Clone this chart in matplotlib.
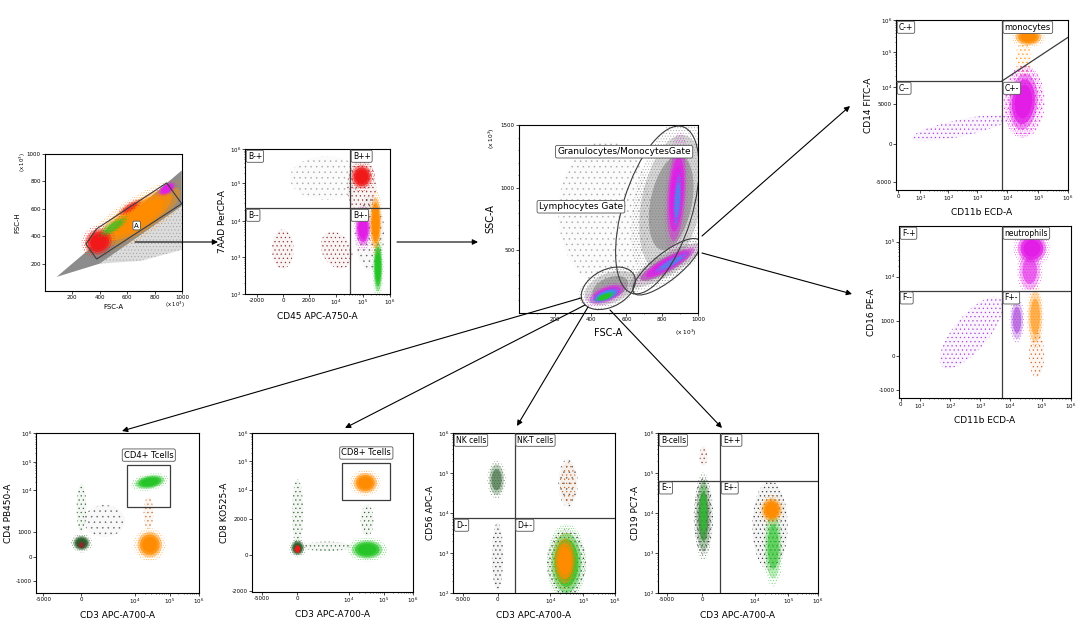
import matplotlib
matplotlib.use('Agg')
import matplotlib.pyplot as plt
import numpy as np
from matplotlib.patches import Ellipse, Polygon, Rectangle, FancyArrowPatch

plt.rcParams['font.family'] = ['DejaVu Sans']
plt.rcParams['hatch.linewidth'] = 0.4

W, H = 1080, 622

COLORS = {
    'orange': '#ff8c00', 'magenta': '#e21ee6', 'purple': '#a43ad8',
    'green': '#26c426', 'dkgreen': '#2b5f2b', 'red': '#f01818',
    'dkred': '#8a2a2a', 'blue': '#2d9cf0', 'gray': '#7a7a7a',
    'ltgray': '#8a8a8a', 'black': '#303030', 'orred': '#c8601a',
}
GATE = '#3c3c3c'

# population clouds: (colour, x, y, spread x, spread y, tilt deg, density)
# panel 1: FSC-H vs FSC-A (x10^3)
P1_BAND = [(85, 103), (998, 880), (998, 620), (400, 200)]
P1_TAIL = [(400, 200), (998, 620), (998, 300), (700, 220)]
P1_GATE = [(299, 343), (377, 454), (888, 789), (998, 637), (377, 233)]
P1_POP = [
    ('orange', 680, 540, 720, 220, 33, 'dense'),
    ('red', 390, 360, 200, 180, 33, 'dense'),
    ('red', 620, 610, 180, 60, 33, 'medium'),
    ('green', 500, 470, 220, 70, 33, 'medium'),
    ('magenta', 890, 745, 130, 70, 33, 'dense'),
]

# panel 2: 7AAD PerCP-A vs CD45 APC-A750-A (display channels)
P2_POP = [
    ('ltgray', 560, 800, 500, 300, 0, 'faint'),
    ('dkred', 260, 310, 150, 270, 0, 'sparse'),
    ('dkred', 632, 303, 200, 270, 30, 'sparse'),
    ('dkred', 805, 740, 200, 380, 0, 'sparse'),
    ('red', 805, 809, 140, 160, 0, 'dense'),
    ('black', 860, 420, 200, 520, 0, 'faint'),
    ('magenta', 814, 455, 100, 240, 0, 'dense'),
    ('green', 917, 188, 60, 340, 0, 'dense'),
    ('orange', 901, 490, 75, 350, 0, 'dense'),
]
P2_XT = [83, 262, 441, 628, 814, 1000]
P2_XL = ['-2000', '0', '2000', '$10^4$', '$10^5$', '$10^6$']
P2_YT = [0, 255, 503, 766, 1000]
P2_YL = ['$10^2$', '$10^3$', '$10^4$', '$10^5$', '$10^6$']
P2_QUAD = (724, 593)

# panel 3: SSC-A vs FSC-A (x10^3)
P3_POP = [
    ('ltgray', 480, 800, 520, 1150, 0, 'faint'),
    ('gray', 850, 880, 330, 1100, -12, 'medium'),
    ('magenta', 880, 950, 100, 750, -4, 'dense'),
    ('blue', 885, 900, 40, 400, -4, 'medium'),
    ('gray', 820, 380, 460, 170, 28, 'medium'),
    ('magenta', 830, 390, 340, 110, 28, 'dense'),
    ('blue', 850, 400, 200, 60, 28, 'medium'),
    ('gray', 510, 200, 300, 240, 20, 'medium'),
    ('magenta', 490, 150, 200, 120, 20, 'dense'),
    ('blue', 485, 140, 150, 80, 20, 'dense'),
    ('green', 480, 130, 100, 50, 20, 'dense'),
]
P3_GATES = [(773, 822, 930, 580, 72), (825, 369, 460, 220, 37),
            (499, 197, 320, 300, 25)]

# panel 4: CD14 FITC-A vs CD11b ECD-A
P4_POP = [
    ('purple', 376, 365, 580, 100, 12, 'sparse'),
    ('orange', 740, 770, 90, 200, 0, 'sparse'),
    ('magenta', 745, 520, 240, 420, 0, 'sparse'),
    ('magenta', 741, 519, 165, 330, -5, 'dense'),
    ('orange', 770, 900, 150, 95, 0, 'dense'),
]
P4_XT = [13, 142, 304, 473, 647, 828, 1000]
P4_XL = ['0', '$10^1$', '$10^2$', '$10^3$', '$10^4$', '$10^5$', '$10^6$']
P4_YT = [47, 271, 506, 606, 812, 1000]
P4_YL = ['-5000', '0', '5000', '$10^4$', '$10^5$', '$10^6$']
P4_QUAD = (616, 641)
P4_DIAG = (1000, 898)

# panel 5: CD16 PE-A vs CD11b ECD-A
P5_POP = [
    ('purple', 420, 380, 520, 200, 50, 'sparse'),
    ('orred', 800, 250, 90, 260, 0, 'sparse'),
    ('purple', 686, 453, 70, 220, 0, 'medium'),
    ('orange', 792, 473, 80, 300, 0, 'medium'),
    ('magenta', 760, 740, 120, 220, 0, 'medium'),
    ('magenta', 773, 870, 165, 165, 0, 'dense'),
]
P5_XT = [10, 122, 297, 472, 646, 831, 1000]
P5_XL = P4_XL
P5_YT = [47, 244, 448, 705, 909]
P5_YL = ['-1000', '0', '1000', '$10^4$', '$10^5$']
P5_QUAD = (598, 624)

# bottom row: CD3 APC-A700-A on x
P6_POP = [
    ('black', 420, 450, 250, 200, 0, 'faint'),
    ('dkgreen', 279, 530, 60, 310, 0, 'sparse'),
    ('orred', 690, 500, 60, 200, 0, 'sparse'),
    ('dkgreen', 279, 312, 100, 90, 0, 'dense'),
    ('dkred', 279, 300, 40, 40, 0, 'dense'),
    ('orange', 698, 302, 150, 160, 0, 'dense'),
    ('green', 698, 694, 180, 80, 10, 'dense'),
]
P6_XT = [45, 276, 606, 820, 1000]
P6_XL = ['-5000', '0', '$10^4$', '$10^5$', '$10^6$']
P6_YT = [77, 228, 383, 643, 820, 1000]
P6_YL = ['-1000', '0', '1000', '$10^4$', '$10^5$', '$10^6$']
P6_RECT = (559, 536, 825, 799)

P7_POP = [
    ('dkgreen', 464, 287, 300, 60, 0, 'sparse'),
    ('dkgreen', 283, 497, 70, 420, 0, 'sparse'),
    ('dkgreen', 715, 450, 80, 200, 0, 'sparse'),
    ('dkgreen', 283, 277, 80, 90, 0, 'dense'),
    ('red', 283, 270, 40, 50, 0, 'dense'),
    ('green', 715, 267, 190, 115, 0, 'dense'),
    ('orange', 704, 686, 145, 125, 0, 'dense'),
]
P7_XT = [62, 280, 600, 818, 1000]
P7_XL = P6_XL
P7_YT = [4, 235, 459, 644, 822, 1000]
P7_YL = ['-2000', '0', '2000', '$10^4$', '$10^5$', '$10^6$']
P7_RECT = (562, 580, 858, 811)

P8_POP = [
    ('black', 275, 229, 70, 420, 0, 'sparse'),
    ('black', 710, 688, 120, 300, 0, 'faint'),
    ('orred', 710, 688, 100, 260, 0, 'sparse'),
    ('dkgreen', 269, 708, 90, 190, 0, 'medium'),
    ('black', 700, 188, 240, 420, 0, 'sparse'),
    ('green', 700, 188, 185, 375, 0, 'dense'),
    ('orange', 690, 200, 130, 280, 0, 'dense'),
]
P8_XT = [62, 275, 600, 805, 1000]
P8_YT = [0, 250, 500, 750, 1000]
P8_YL = P2_YL
P8_QUAD = (380, 469)

P9_POP = [
    ('black', 700, 420, 220, 560, 0, 'sparse'),
    ('dkred', 284, 855, 50, 120, 0, 'sparse'),
    ('black', 284, 479, 120, 480, 0, 'sparse'),
    ('dkgreen', 284, 479, 90, 440, 0, 'medium'),
    ('green', 284, 500, 50, 350, 0, 'medium'),
    ('green', 720, 291, 100, 400, 0, 'medium'),
    ('orange', 710, 520, 125, 145, 0, 'dense'),
]
P9_XT = [56, 278, 606, 813, 1000]
P9_YT = P8_YT
P9_YL = P2_YL
P9_QUAD = (388, 702)

# (scale, fill alpha, hatch, hatch alpha)
KINDS = {
    'faint': [(1.0, 0.03, '...', 0.6)],
    'sparse': [(1.0, 0.05, '....', 0.9)],
    'medium': [(1.25, 0.0, '......', 0.6), (1.0, 0.3, None, 1), (0.7, 0.55, None, 1)],
    'dense': [(1.3, 0.0, '.......', 0.6), (1.0, 0.45, None, 1),
              (0.8, 0.75, None, 1), (0.6, 1.0, None, 1)],
}


def panel(fig, l, t, r, b):
    ax = fig.add_axes([l / W, 1 - b / H, (r - l) / W, (b - t) / H])
    ax.tick_params(labelsize=4, length=2, width=0.5, pad=1)
    ax.tick_params(which='minor', length=1, width=0.4)
    for s in ax.spines.values():
        s.set_linewidth(0.8)
    return ax


def ticks(ax, axis, pos, labels):
    getattr(ax, 'set_%sticks' % axis)(pos, labels)
    minor = []
    for i in range(len(pos) - 1):
        if labels[i].startswith('$10') and labels[i + 1].startswith('$10'):
            a, b = pos[i], pos[i + 1]
            minor += [a + (b - a) * np.log10(m) for m in range(2, 10)]
    getattr(ax, 'set_%sticks' % axis)(minor, minor=True)


def blob(ax, pop):
    key, x, y, sx, sy, tilt, kind = pop
    color = COLORS[key]
    (x0, x1), (y0, y1) = ax.get_xlim(), ax.get_ylim()
    cx, cy = (x - x0) / (x1 - x0), (y - y0) / (y1 - y0)
    fw, fh = sx / (x1 - x0), sy / (y1 - y0)
    for s, fa, hatch, ha in KINDS[kind]:
        if fa > 0:
            ax.add_patch(Ellipse((cx, cy), fw * s, fh * s, angle=tilt, transform=ax.transAxes,
                                 facecolor=color, edgecolor='none', lw=0, alpha=fa))
        if hatch:
            ax.add_patch(Ellipse((cx, cy), fw * s, fh * s, angle=tilt, transform=ax.transAxes,
                                 facecolor='none', edgecolor=color, hatch=hatch, lw=0,
                                 alpha=ha))


def tag(ax, x, y, s, size=5.5, ha='left', va='top', off=(2, -2)):
    ax.annotate(s, (x, y), xytext=off, textcoords='offset points', ha=ha, va=va,
                fontsize=size, zorder=5,
                bbox=dict(boxstyle='round,pad=0.2', fc='white', ec='#555555', lw=0.6))


def quad(ax, qx, qy, names, full=True):
    ax.axvline(qx, color=GATE, lw=0.9, zorder=4)
    if full:
        ax.axhline(qy, color=GATE, lw=0.9, zorder=4)
    tag(ax, 0, 1000, names[0])
    tag(ax, qx, 1000, names[1])
    tag(ax, 0, qy, names[2])
    tag(ax, qx, qy, names[3])


def channel_axes(ax, xt, xl, yt, yl, xlabel, ylabel):
    ax.set_xlim(0, 1000)
    ax.set_ylim(0, 1000)
    ticks(ax, 'x', xt, xl)
    ticks(ax, 'y', yt, yl)
    ax.set_xlabel(xlabel, fontsize=6.5, labelpad=3)
    ax.set_ylabel(ylabel, fontsize=6.5, labelpad=2)


fig = plt.figure(figsize=(W / 100, H / 100), dpi=100)

# --- panel 1
ax1 = panel(fig, 45, 154, 182, 291)
ax1.set_xlim(0, 1000)
ax1.set_ylim(0, 1000)
ax1.set_xticks([200, 400, 600, 800, 1000])
ax1.set_yticks([200, 400, 600, 800, 1000])
ax1.add_patch(Polygon(P1_TAIL, closed=True, facecolor='#bbbbbb', edgecolor=COLORS['gray'],
                      hatch='.....', lw=0, alpha=0.5))
ax1.add_patch(Polygon(P1_BAND, closed=True, facecolor='#8c8c8c', edgecolor='none'))
for p in P1_POP:
    blob(ax1, p)
ax1.add_patch(Polygon(P1_GATE, closed=True, facecolor='none', edgecolor=GATE, lw=0.8, zorder=4))
tag(ax1, 669, 478, 'A', size=5, ha='center', va='center', off=(0, 0))
ax1.set_xlabel('FSC-A', fontsize=5, labelpad=3)
ax1.set_ylabel('FSC-H', fontsize=5, labelpad=5)
ax1.text(-0.16, 0.94, '(x 10$^3$)', transform=ax1.transAxes, rotation=90,
         fontsize=3.8, ha='center', va='center')
ax1.text(0.95, -0.1, '(x 10$^3$)', transform=ax1.transAxes, fontsize=3.8,
         ha='center', va='center')

# --- panel 2
ax2 = panel(fig, 245, 149, 390, 294)
channel_axes(ax2, P2_XT, P2_XL, P2_YT, P2_YL, 'CD45 APC-A750-A', '7AAD PerCP-A')
for p in P2_POP:
    blob(ax2, p)
quad(ax2, *P2_QUAD, ['B-+', 'B++', 'B--', 'B+-'])

# --- panel 3
ax3 = panel(fig, 519, 125, 698, 313)
ax3.set_xlim(0, 1000)
ax3.set_ylim(0, 1500)
ax3.set_xticks([200, 400, 600, 800, 1000])
ax3.set_yticks([500, 1000, 1500])
ax3.set_xticks(np.arange(100, 1000, 100), minor=True)
ax3.set_yticks(np.arange(100, 1500, 100), minor=True)
for p in P3_POP:
    blob(ax3, p)
for gx, gy, gw, gh, ga in P3_GATES:
    ax3.add_patch(Ellipse((gx / 1000, gy / 1500), gw / 1000, gh / 1500, angle=ga,
                          transform=ax3.transAxes, facecolor='none', edgecolor=GATE,
                          lw=0.8, zorder=4))
tag(ax3, 587, 1287, 'Granulocytes/MonocytesGate', size=6.5, ha='center', va='center', off=(0, 0))
tag(ax3, 346, 848, 'Lymphocytes Gate', size=6.5, ha='center', va='center', off=(0, 0))
ax3.set_xlabel('FSC-A', fontsize=7, labelpad=4)
ax3.set_ylabel('SSC-A', fontsize=7, labelpad=4)
ax3.text(-0.153, 0.93, '(x 10$^3$)', transform=ax3.transAxes, rotation=90,
         fontsize=4.2, ha='center', va='center')
ax3.text(0.93, -0.106, '(x 10$^3$)', transform=ax3.transAxes, fontsize=4.2,
         ha='center', va='center')

# --- panel 4
ax4 = panel(fig, 896, 20, 1068, 190)
channel_axes(ax4, P4_XT, P4_XL, P4_YT, P4_YL, 'CD11b ECD-A', 'CD14 FITC-A')
for p in P4_POP:
    blob(ax4, p)
qx, qy = P4_QUAD
ax4.axvline(qx, color=GATE, lw=0.9, zorder=4)
ax4.plot([0, qx], [qy, qy], color=GATE, lw=0.9, zorder=4)
ax4.plot([qx, P4_DIAG[0]], [qy, P4_DIAG[1]], color=GATE, lw=0.9, zorder=4)
tag(ax4, 0, 1000, 'C-+')
tag(ax4, qx, 1000, 'monocytes', size=6)
tag(ax4, 0, qy, 'C--')
tag(ax4, qx, qy, 'C+-')

# --- panel 5
ax5 = panel(fig, 899, 226, 1071, 398)
channel_axes(ax5, P5_XT, P5_XL, P5_YT, P5_YL, 'CD11b ECD-A', 'CD16 PE-A')
for p in P5_POP:
    blob(ax5, p)
quad(ax5, *P5_QUAD, ['F-+', 'neutrophils', 'F--', 'F+-'])

# --- bottom row
ax6 = panel(fig, 36, 433, 199, 593)
channel_axes(ax6, P6_XT, P6_XL, P6_YT, P6_YL, 'CD3 APC-A700-A', 'CD4 PB450-A')
for p in P6_POP:
    blob(ax6, p)
x0, y0, x1, y1 = P6_RECT
ax6.add_patch(Rectangle((x0, y0), x1 - x0, y1 - y0, fill=False, ec=GATE, lw=0.9, zorder=4))
tag(ax6, (x0 + x1) / 2, y1, 'CD4+ Tcells', size=6, ha='center', va='bottom', off=(0, 4))

ax7 = panel(fig, 252, 433, 413, 592)
channel_axes(ax7, P7_XT, P7_XL, P7_YT, P7_YL, 'CD3 APC-A700-A', 'CD8 KO525-A')
for p in P7_POP:
    blob(ax7, p)
x0, y0, x1, y1 = P7_RECT
ax7.add_patch(Rectangle((x0, y0), x1 - x0, y1 - y0, fill=False, ec=GATE, lw=0.9, zorder=4))
tag(ax7, (x0 + x1) / 2, y1, 'CD8+ Tcells', size=6, ha='center', va='bottom', off=(0, 4))

ax8 = panel(fig, 453, 433, 615, 593)
channel_axes(ax8, P8_XT, P6_XL, P8_YT, P8_YL, 'CD3 APC-A700-A', 'CD56 APC-A')
for p in P8_POP:
    blob(ax8, p)
quad(ax8, *P8_QUAD, ['NK cells', 'NK-T cells', 'D--', 'D+-'])

ax9 = panel(fig, 658, 433, 818, 593)
channel_axes(ax9, P9_XT, P6_XL, P9_YT, P9_YL, 'CD3 APC-A700-A', 'CD19 PC7-A')
for p in P9_POP:
    blob(ax9, p)
quad(ax9, *P9_QUAD, ['B-cells', 'E++', 'E--', 'E+-'])

# --- arrows between plots (figure pixels, top-left origin)
ARROWS = [((135, 242), (218, 242)), ((397, 242), (478, 242)),
          ((702, 236), (850, 106)), ((702, 253), (852, 294)),
          ((581, 298), (122, 431)), ((585, 305), (345, 428)),
          ((588, 307), (517, 426)), ((610, 310), (722, 428))]
for (tx, ty), (hx, hy) in ARROWS:
    fig.add_artist(FancyArrowPatch(
        (tx, H - ty), (hx, H - hy), transform=None, arrowstyle='-|>',
        mutation_scale=8, color='black', lw=0.8, shrinkA=0, shrinkB=0, zorder=10))

fig.savefig('out.png', dpi=100)
